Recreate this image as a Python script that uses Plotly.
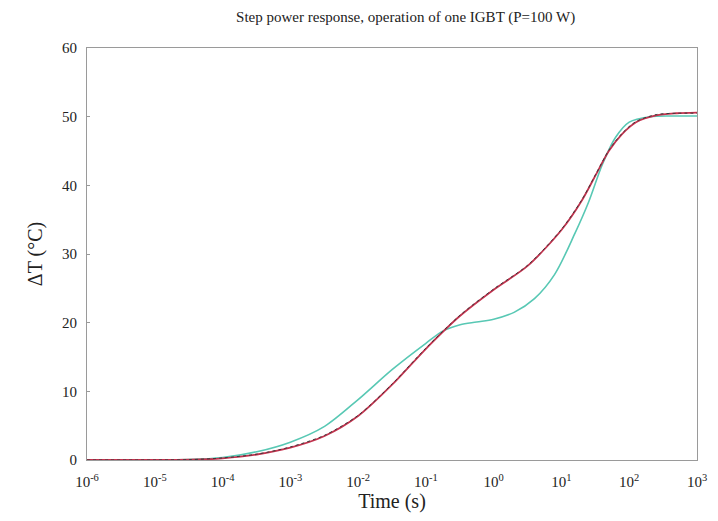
import plotly.graph_objects as go

# Time (s)
time_red = [1e-6, 1e-5, 3.2e-5, 1e-4, 3.2e-4, 1e-3, 3.2e-3, 1e-2, 3.2e-2, 1e-1, 3.2e-1,
            1e0, 3.2e0, 1e1, 2e1, 3.2e1, 5e1, 7.9e1, 1.26e2, 2.5e2, 5e2, 1e3]
dT_red = [0, 0, 0.05, 0.25, 0.8, 1.8, 3.5, 6.4, 11.0, 16.2, 21.0,
          24.8, 28.3, 33.5, 37.8, 41.5, 45.0, 47.5, 49.2, 50.2, 50.5, 50.6]

time_dark = time_red
dT_dark = [0, 0, 0.05, 0.3, 0.85, 1.9, 3.6, 6.5, 11.1, 16.3, 21.1,
           24.9, 28.4, 33.6, 37.9, 41.6, 45.1, 47.6, 49.3, 50.3, 50.5, 50.5]

time_cyan = [1e-6, 1e-5, 3.2e-5, 1e-4, 3.2e-4, 1e-3, 3.2e-3, 1e-2, 3.2e-2, 1e-1, 1.8e-1,
             3.2e-1, 5.6e-1, 1e0, 2e0, 4e0, 7.9e0, 1.58e1, 2.5e1, 4e1, 6.3e1, 1e2, 2e2, 5e2, 1e3]
dT_cyan = [0, 0, 0.05, 0.35, 1.2, 2.6, 4.9, 8.8, 13.2, 17.0, 18.8,
           19.7, 20.1, 20.5, 21.5, 23.5, 27.0, 33.0, 37.5, 43.0, 47.0, 49.2, 50.0, 50.1, 50.1]

tick_vals = [1e-6, 1e-5, 1e-4, 1e-3, 1e-2, 1e-1, 1e0, 1e1, 1e2, 1e3]
tick_text = ["10<sup>-6</sup>", "10<sup>-5</sup>", "10<sup>-4</sup>", "10<sup>-3</sup>",
             "10<sup>-2</sup>", "10<sup>-1</sup>", "10<sup>0</sup>", "10<sup>1</sup>",
             "10<sup>2</sup>", "10<sup>3</sup>"]
y_ticks = [0, 10, 20, 30, 40, 50, 60]

fig = go.Figure()
fig.add_trace(go.Scatter(x=time_cyan, y=dT_cyan, mode="lines",
                         line=dict(color="#58c8b4", width=1.6, shape="spline", smoothing=0.9)))
fig.add_trace(go.Scatter(x=time_red, y=dT_red, mode="lines",
                         line=dict(color="#c4324e", width=1.8, shape="spline", smoothing=0.8)))
fig.add_trace(go.Scatter(x=time_dark, y=dT_dark, mode="lines",
                         line=dict(color="#3a3a3a", width=1.0, dash="dot", shape="spline", smoothing=0.8)))

serif = "Liberation Serif, Times New Roman, serif"
fig.update_layout(
    width=718, height=521,
    margin=dict(l=87, r=11, t=48, b=61),
    paper_bgcolor="white", plot_bgcolor="white",
    showlegend=False,
    font=dict(family=serif, color="#222"),
    title=dict(text="Step power response, operation of one IGBT (P=100 W)",
               x=0.565, xanchor="center", y=0.968, yanchor="middle",
               font=dict(family=serif, size=15, color="#222")),
)
fig.update_xaxes(type="log", range=[-6, 3], tickvals=tick_vals, ticktext=tick_text,
                 showgrid=False, zeroline=False, showline=True, linecolor="#9a9a9a",
                 linewidth=1, mirror=True, ticks="", ticklabelstandoff=8,
                 tickfont=dict(size=15, family=serif),
                 title=dict(text="Time (s)", font=dict(size=20, family=serif), standoff=0))
fig.update_yaxes(range=[0, 60], tickvals=y_ticks, showgrid=False, zeroline=False,
                 showline=True, linecolor="#9a9a9a", linewidth=1, mirror=True,
                 ticks="inside", ticklen=3, tickcolor="#9a9a9a", ticklabelstandoff=6,
                 tickfont=dict(size=15, family=serif),
                 title=dict(text="ΔT (°C)", font=dict(size=20, family=serif), standoff=14))

fig.write_html("out.html")
